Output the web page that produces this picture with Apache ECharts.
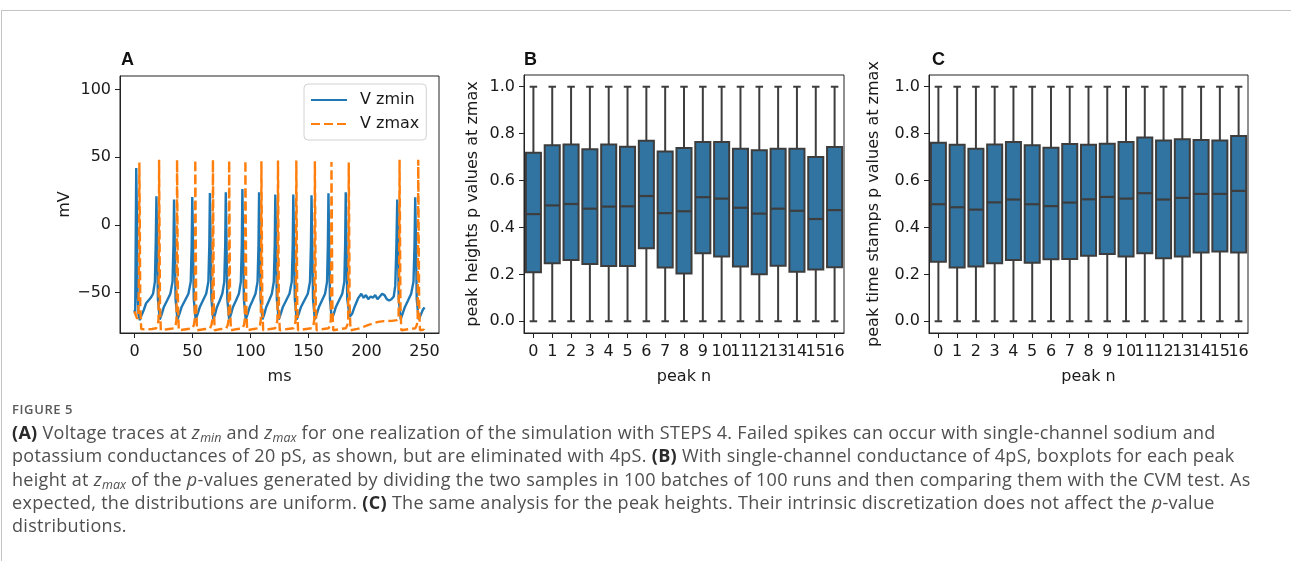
<!DOCTYPE html>
<html>
<head>
<meta charset="utf-8">
<script src="https://cdn.jsdelivr.net/npm/echarts@6/dist/echarts.min.js"></script>
<style>
  html, body { margin: 0; padding: 0; background: #fff; }
  #wrap { position: relative; width: 1291px; height: 561px; overflow: hidden; }
  #chart { position: absolute; left: 0; top: 0; width: 1291px; height: 561px; }
  #frame { position: absolute; left: 1px; top: 10px; width: 1300px; height: 600px;
           border-top: 1px solid #c4c4c4; border-left: 1px solid #c4c4c4; }
  #figlabel { position: absolute; left: 12px; top: 400px; font-family: "Open Sans", sans-serif;
              font-size: 13px; letter-spacing: 0.6px; color: #5a5a5a; font-weight: 600; }
  #caption { position: absolute; left: 12px; top: 421px; font-family: "Open Sans", sans-serif;
             font-size: 18px; letter-spacing: 0.3px; line-height: 23.3px; color: #4f4f4f; white-space: nowrap; }
  #caption b { color: #2a2a2a; }
  #caption sub { font-size: 12.5px; font-style: italic; vertical-align: -3px; line-height: 0; letter-spacing: 0; }
</style>
</head>
<body>
<div id="wrap">
  <div id="frame"></div>
  <div id="chart"></div>
  <div id="figlabel">FIGURE 5</div>
  <div id="caption">
    <b>(A)</b> Voltage traces at <i>z</i><sub>min</sub> and <i>z</i><sub>max</sub> for one realization of the simulation with STEPS 4. Failed spikes can occur with single-channel sodium and<br>
    potassium conductances of 20 pS, as shown, but are eliminated with 4pS. <b>(B)</b> With single-channel conductance of 4pS, boxplots for each peak<br>
    height at <i>z</i><sub>max</sub> of the <i>p</i>-values generated by dividing the two samples in 100 batches of 100 runs and then comparing them with the CVM test. As<br>
    expected, the distributions are uniform. <b>(C)</b> The same analysis for the peak heights. Their intrinsic discretization does not affect the <i>p</i>-value<br>
    distributions.
  </div>
</div>
<script>
// ---------------- DATA ----------------
const aXTicks = [0, 50, 100, 150, 200, 250];
const aYTicks = [-50, 0, 50, 100];
const pTicks = [0.0, 0.2, 0.4, 0.6, 0.8, 1.0];
const peakN = ['0','1','2','3','4','5','6','7','8','9','10','11','12','13','14','15','16'];

// Panel A: voltage traces [ms, mV]
const vZmin = [
  [0,-63],[0.6,-66],[1.0,-20],[1.5,42],[2.0,10],[2.6,-50],[3.4,-66],[4.6,-70.5],[6,-67],[8,-63],[10,-58],[12,-56],[14,-54],[16,-51],[17.6,-42],[18.4,-10],[18.9,21],
  [19.4,-5],[20.2,-55],[21.8,-70],[23.5,-66],[25.2,-61],[28.1,-56],[30.9,-51],[32.8,-42],[33.6,-15],[34.1,18.6],
  [34.6,-5],[35.4,-55],[37,-70],[38.7,-66],[40.5,-61],[43.5,-56],[46.5,-51],[48.5,-42],[49.3,-15],[49.8,20.6],
  [50.3,-5],[51.1,-55],[52.7,-70],[54.4,-66],[56.2,-61],[59,-56],[61.8,-51],[63.7,-42],[64.5,-15],[65,23.5],
  [65.5,-5],[66.3,-55],[67.9,-70],[69.5,-66],[71,-61],[73.5,-56],[75.7,-51],[77.4,-42],[78.2,-15],[78.7,24],
  [79.2,-5],[80,-55],[81.6,-70],[83.2,-66],[84.8,-61],[87.5,-56],[90,-51],[91.7,-42],[92.5,-15],[93,26.5],
  [93.5,-5],[94.3,-55],[95.9,-70],[97.5,-66],[99.2,-61],[101.8,-56],[104.3,-51],[106.1,-42],[106.9,-15],[107.4,24],
  [107.9,-5],[108.7,-55],[110.3,-70],[111.9,-66],[113.5,-61],[116,-56],[118.4,-51],[120.1,-42],[120.9,-15],[121.4,22.3],
  [121.9,-5],[122.7,-55],[124.3,-70],[126,-66],[127.8,-61],[130.7,-56],[133.6,-51],[135.6,-42],[136.4,-15],[136.9,22.3],
  [137.4,-5],[138.2,-55],[139.8,-70],[141.5,-66],[143.4,-61],[146.4,-56],[149.4,-51],[151.3,-42],[152.1,-15],[152.6,21.8],
  [153.1,-5],[153.9,-55],[155.5,-70],[157.1,-66],[158.9,-61],[161.6,-56],[164.3,-51],[166,-42],[166.7,-15],[167.2,23.3],
  [167.7,-5],[168.5,-55],[170.1,-70],[171.7,-66],[173.5,-61],[176.3,-56],[179.1,-51],[180.9,-42],[181.6,-15],[182.1,24],
  [182.6,-5],[183.4,-55],[185.5,-68],[187.5,-66],[190,-60],[193,-54],[195.5,-51],[197.5,-54],[199.5,-52],[201.5,-55],[203.5,-53],[205.5,-54],[207.5,-52],[209.5,-55],[211.5,-53],[213.5,-51],[215.5,-52],[217.5,-55],[219.5,-56],[221.5,-55],[223.5,-53],[224.8,-45],[225.8,-15],[226.5,18.6],
  [227,-5],[227.8,-55],[229.5,-70],[231,-66],[233,-61],[235.8,-56],[238.5,-51],[240.5,-42],[241.4,-15],[242,20.3],
  [242.5,-5],[243.3,-55],[245,-70],[246.5,-67],[248.5,-63],[250,-61]
];
const vZmax = [
  [0,-64],[1,-66.5],[2.3,-69.5],[3.3,-67],[3.8,-40],[4.0,0],[4.2,46],[4.5,10],[5.0,-60],[5.8,-77],[7,-78],
  [10,-77.5],[15,-77],[18.7,-76.5],[20,-74],[20.7,-70],[21.0,-20],[21.2,48],[21.55,0],[22.0,-60],[22.7,-78],[24,-77.5],
  [30,-77],[34.2,-76.5],[35.5,-74],[36.2,-70],[36.5,-20],[36.7,48],[37.05,0],[37.5,-60],[38.2,-78],[39.5,-77.5],
  [46,-77],[49.9,-76.5],[51.2,-74],[51.9,-70],[52.2,-20],[52.4,48],[52.75,0],[53.2,-60],[53.9,-78],[55.2,-77.5],
  [61,-77],[65.1,-76.5],[66.4,-74],[67.1,-70],[67.4,-20],[67.6,48],[67.95,0],[68.4,-60],[69.1,-78],[70.4,-77.5],
  [75,-77],[79.1,-76.5],[80.4,-74],[81.1,-70],[81.4,-20],[81.6,47.5],[81.95,0],[82.4,-60],[83.1,-78],[84.4,-77.5],
  [89,-77],[93.1,-76.5],[94.4,-74],[95.1,-70],[95.4,-20],[95.6,47.5],[95.95,0],[96.4,-60],[97.1,-78],[98.4,-77.5],
  [103,-77],[106.9,-76.5],[108.2,-74],[108.9,-70],[109.2,-20],[109.4,47],[109.75,0],[110.2,-60],[110.9,-78],[112.2,-77.5],
  [117,-77],[121.2,-76.5],[122.5,-74],[123.2,-70],[123.5,-20],[123.7,47.5],[124.05,0],[124.5,-60],[125.2,-78],[126.5,-77.5],
  [132,-77],[137,-76.5],[138.3,-74],[139,-70],[139.3,-20],[139.5,47.5],[139.85,0],[140.3,-60],[141,-78],[142.3,-77.5],
  [148,-77],[153,-76.5],[154.3,-74],[155,-70],[155.3,-20],[155.5,47],[155.85,0],[156.3,-60],[157,-78],[158.3,-77.5],
  [163,-77],[167.3,-76.5],[168.6,-74],[169.3,-70],[169.6,-20],[169.8,46.5],[170.15,0],[170.6,-60],[171.3,-78],[172.6,-77.5],
  [178,-77],[182.2,-76.5],[183.5,-74],[184.2,-70],[184.5,-20],[184.7,46],[185.05,0],[185.5,-60],[186.2,-78],[187.5,-77.5],
  [192,-77],[196,-76],[200,-74.5],[205,-73],[210,-71.8],[215,-71.2],[222,-71],[226.5,-70.5],[227.6,-69],[228.1,-40],[228.3,0],[228.5,48],[228.85,0],[229.3,-60],[230,-78],[231.3,-77.5],
  [238,-77],[242.1,-76.5],[243.4,-74],[244.1,-70],[244.4,-20],[244.6,48],[244.95,0],[245.4,-60],[246.1,-78],[247.5,-77.5],[249.5,-77.5],[250,-79]
];

// Panel B: peak heights p values at zmax (whisker low, Q1, median, Q3, whisker high)
const heightsLo  = [0,0,0,0,0,0,0,0,0,0,0,0,0,0,0,0,0];
const heightsQ1  = [0.209,0.247,0.261,0.244,0.236,0.236,0.311,0.229,0.204,0.290,0.276,0.233,0.201,0.237,0.211,0.221,0.230];
const heightsMed = [0.457,0.494,0.500,0.480,0.489,0.490,0.534,0.461,0.469,0.529,0.523,0.484,0.459,0.480,0.471,0.436,0.474];
const heightsQ3  = [0.719,0.751,0.754,0.733,0.754,0.744,0.770,0.724,0.739,0.764,0.764,0.736,0.729,0.736,0.736,0.700,0.743];
const heightsHi  = [1,1,1,1,1,1,1,1,1,1,1,1,1,1,1,1,1];

// Panel C: peak time stamps p values at zmax
const stampsLo  = [0,0,0,0,0,0,0,0,0,0,0,0,0,0,0,0,0];
const stampsQ1  = [0.254,0.229,0.233,0.247,0.261,0.250,0.264,0.266,0.279,0.287,0.276,0.290,0.269,0.276,0.293,0.297,0.293];
const stampsMed = [0.499,0.486,0.476,0.507,0.519,0.499,0.491,0.506,0.520,0.530,0.523,0.546,0.519,0.526,0.543,0.543,0.556];
const stampsQ3  = [0.761,0.753,0.736,0.754,0.764,0.751,0.740,0.756,0.753,0.757,0.764,0.784,0.771,0.776,0.773,0.771,0.790];
const stampsHi  = [1,1,1,1,1,1,1,1,1,1,1,1,1,1,1,1,1];

// ---------------- CHART ----------------
const FONT = 'DejaVu Sans';
const TXT = '#1a1a1a';
const FRAME = '#222';
const BOX_FILL = '#3274a1';
const BOX_EDGE = '#3d3d3d';

function boxTable(lo, q1, med, q3, hi) {
  return peakN.map((_, i) => [i, lo[i], q1[i], med[i], q3[i], hi[i]]);
}

function renderBox(params, api) {
  const i = api.value(0);
  const pLo = api.coord([i, api.value(1)]);
  const pQ1 = api.coord([i, api.value(2)]);
  const pMed = api.coord([i, api.value(3)]);
  const pQ3 = api.coord([i, api.value(4)]);
  const pHi = api.coord([i, api.value(5)]);
  const band = api.size([1, 0])[0];
  const w = band * 0.8;
  const x = pLo[0];
  const st = { stroke: BOX_EDGE, lineWidth: 2 };
  return {
    type: 'group',
    children: [
      { type: 'line', shape: { x1: x, y1: pQ1[1], x2: x, y2: pLo[1] }, style: st },
      { type: 'line', shape: { x1: x, y1: pQ3[1], x2: x, y2: pHi[1] }, style: st },
      { type: 'line', shape: { x1: x - w / 4, y1: pLo[1], x2: x + w / 4, y2: pLo[1] }, style: st },
      { type: 'line', shape: { x1: x - w / 4, y1: pHi[1], x2: x + w / 4, y2: pHi[1] }, style: st },
      { type: 'rect', shape: { x: x - w / 2, y: pQ3[1], width: w, height: pQ1[1] - pQ3[1] },
        style: { fill: BOX_FILL, stroke: BOX_EDGE, lineWidth: 2 } },
      { type: 'line', shape: { x1: x - w / 2, y1: pMed[1], x2: x + w / 2, y2: pMed[1] }, style: { stroke: BOX_EDGE, lineWidth: 2.2 } }
    ]
  };
}

function pAxisY(gridIndex, name, gap) {
  return {
    type: 'value', gridIndex, min: -0.05, max: 1.05,
    name, nameLocation: 'middle', nameGap: gap,
    nameTextStyle: { fontFamily: FONT, fontSize: 16, color: TXT },
    axisLine: { show: true, onZero: false, lineStyle: { color: FRAME, width: 1 } },
    axisTick: { show: true, length: 5, lineStyle: { color: FRAME }, customValues: pTicks },
    axisLabel: { fontFamily: FONT, fontSize: 16, color: TXT, margin: 9, customValues: pTicks,
                 formatter: v => Number(v).toFixed(1) },
    splitLine: { show: false }
  };
}
function pAxisX(gridIndex) {
  return {
    type: 'category', gridIndex, data: peakN, boundaryGap: true,
    name: 'peak n', nameLocation: 'middle', nameGap: 36,
    nameTextStyle: { fontFamily: FONT, fontSize: 16, color: TXT },
    axisLine: { show: true, onZero: false, lineStyle: { color: FRAME, width: 1 } },
    axisTick: { show: true, length: 5, alignWithLabel: true, interval: 0, lineStyle: { color: FRAME } },
    axisLabel: { fontFamily: FONT, fontSize: 16, color: TXT, margin: 11, interval: 0 },
    splitLine: { show: false }
  };
}

const titleStyle = { fontFamily: 'Liberation Sans', fontWeight: 'bold', fontSize: 18, color: '#111' };

const chart = echarts.init(document.getElementById('chart'));
chart.setOption({
  backgroundColor: 'transparent',
  animation: false,
  title: [
    { text: 'A', left: 121, top: 51, padding: 0, textStyle: titleStyle },
    { text: 'B', left: 524, top: 51, padding: 0, textStyle: titleStyle },
    { text: 'C', left: 932, top: 51, padding: 0, textStyle: titleStyle }
  ],
  legend: {
    data: ['V zmin', 'V zmax'],
    orient: 'vertical', left: 304, top: 84,
    itemWidth: 36, itemHeight: 14, itemGap: 8,
    padding: [8, 7, 8, 6],
    itemStyle: { opacity: 0 },
    backgroundColor: 'rgba(255,255,255,0.85)', borderColor: '#d2d2d2', borderWidth: 1, borderRadius: 4,
    textStyle: { fontFamily: FONT, fontSize: 16, color: TXT, padding: [0, 0, 0, 8] }
  },
  grid: [
    { left: 120, top: 76, width: 319, height: 257, show: true, borderColor: FRAME, borderWidth: 1, backgroundColor: 'transparent' },
    { left: 524, top: 75, width: 320, height: 258, show: true, borderColor: FRAME, borderWidth: 1, backgroundColor: 'transparent' },
    { left: 929, top: 75, width: 319, height: 258, show: true, borderColor: FRAME, borderWidth: 1, backgroundColor: 'transparent' }
  ],
  xAxis: [
    {
      type: 'value', gridIndex: 0, min: -12.5, max: 262.5,
      name: 'ms', nameLocation: 'middle', nameGap: 36,
      nameTextStyle: { fontFamily: FONT, fontSize: 16, color: TXT },
      axisLine: { show: true, onZero: false, lineStyle: { color: FRAME, width: 1 } },
      axisTick: { show: true, length: 5, lineStyle: { color: FRAME }, customValues: aXTicks },
      axisLabel: { fontFamily: FONT, fontSize: 16, color: TXT, margin: 11, customValues: aXTicks },
      splitLine: { show: false }
    },
    pAxisX(1),
    pAxisX(2)
  ],
  yAxis: [
    {
      type: 'value', gridIndex: 0, min: -80, max: 110,
      name: 'mV', nameLocation: 'middle', nameGap: 40,
      nameTextStyle: { fontFamily: FONT, fontSize: 16, color: TXT },
      axisLine: { show: true, onZero: false, lineStyle: { color: FRAME, width: 1 } },
      axisTick: { show: true, length: 5, lineStyle: { color: FRAME }, customValues: aYTicks },
      axisLabel: { fontFamily: FONT, fontSize: 16, color: TXT, margin: 9, customValues: aYTicks,
                   formatter: v => (v < 0 ? '\u2212' + Math.abs(v) : String(v)) },
      splitLine: { show: false }
    },
    pAxisY(1, 'peak heights p values at zmax', 43),
    pAxisY(2, 'peak time stamps p values at zmax', 47)
  ],
  series: [
    {
      name: 'V zmin', type: 'line', xAxisIndex: 0, yAxisIndex: 0, data: vZmin,
      symbol: 'none', showSymbol: false, clip: true,
      lineStyle: { color: '#1f77b4', width: 2.4 }, itemStyle: { color: '#1f77b4' }
    },
    {
      name: 'V zmax', type: 'line', xAxisIndex: 0, yAxisIndex: 0, data: vZmax,
      symbol: 'none', showSymbol: false, clip: true,
      lineStyle: { color: '#ff7f0e', width: 2.4, type: [9, 4] }, itemStyle: { color: '#ff7f0e' }
    },
    {
      name: 'heights', type: 'custom', xAxisIndex: 1, yAxisIndex: 1,
      data: boxTable(heightsLo, heightsQ1, heightsMed, heightsQ3, heightsHi),
      encode: { x: 0, y: [1, 2, 3, 4, 5] }, renderItem: renderBox
    },
    {
      name: 'stamps', type: 'custom', xAxisIndex: 2, yAxisIndex: 2,
      data: boxTable(stampsLo, stampsQ1, stampsMed, stampsQ3, stampsHi),
      encode: { x: 0, y: [1, 2, 3, 4, 5] }, renderItem: renderBox
    }
  ]
});
</script>
</body>
</html>
